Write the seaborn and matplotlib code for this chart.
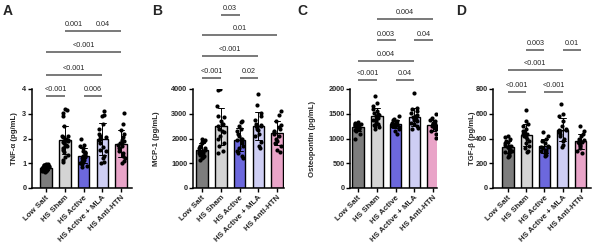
import numpy as np
import pandas as pd
import matplotlib
matplotlib.use("Agg")
import matplotlib.pyplot as plt
import seaborn as sns
import warnings
warnings.filterwarnings("ignore")

sns.set_theme(style="ticks")
plt.rcParams['font.family'] = ['Liberation Sans', 'DejaVu Sans']
np.random.seed(3)

groups = ["Low Salt", "HS Sham", "HS Active", "HS Active + MLA", "HS Anti-HTN"]
colors = ["#7d7d7d", "#d4d4d4", "#5a55f0", "#c8c8fa", "#f598c8"]

# Panel A: TNF-alpha (pg/mL)
tnf_low = [0.95, 0.98, 0.92, 0.9, 0.88, 0.85, 0.85, 0.83, 0.82, 0.8, 0.8, 0.78, 0.77, 0.75, 0.75, 0.72, 0.7, 0.7, 0.68, 0.65, 0.92, 0.87, 0.9, 0.78]
tnf_sham = [3.2, 3.15, 3.05, 2.9, 2.5, 2.1, 1.9, 1.75, 1.95, 1.7, 1.85, 2.1, 2.0, 1.95, 1.9, 1.85, 1.8, 1.7, 1.6, 1.55, 1.45, 1.35, 1.25, 1.15, 1.05, 1.9, 2.05]
tnf_active = [2.0, 1.75, 1.68, 1.6, 1.5, 1.45, 1.4, 1.35, 1.3, 1.3, 1.25, 1.2, 1.15, 1.1, 1.05, 1.0, 0.95, 0.9, 0.85, 1.4]
tnf_mla = [3.1, 2.95, 2.9, 2.6, 2.4, 2.2, 2.1, 2.0, 1.95, 1.8, 1.65, 1.55, 1.5, 1.3, 1.2, 1.05, 1.0, 2.05]
tnf_antihtn = [3.05, 2.6, 2.35, 2.2, 2.05, 1.95, 1.9, 1.85, 1.8, 1.7, 1.6, 1.5, 1.4, 1.3, 1.2, 1.1, 1.0, 1.75]

# Panel B: MCP-1 (pg/mL)
mcp_low = [2000, 1950, 1900, 1850, 1800, 1700, 1650, 1600, 1550, 1500, 1500, 1450, 1400, 1350, 1300, 1250, 1200, 1150, 1400, 1600]
mcp_sham = [4000, 3950, 3300, 2900, 2850, 2700, 2600, 2500, 2400, 2300, 2250, 2100, 2000, 1800, 1700, 1500, 1400, 2600]
mcp_active = [2700, 2650, 2500, 2400, 2300, 2200, 2100, 2000, 1950, 1900, 1800, 1700, 1600, 1500, 1400, 1300, 1200, 2000]
mcp_mla = [3800, 3350, 3050, 2900, 2750, 2600, 2550, 2500, 2450, 2400, 2350, 2200, 2100, 1850, 1700, 1600, 2500]
mcp_antihtn = [3100, 2950, 2700, 2550, 2450, 2400, 2300, 2200, 2100, 2000, 1900, 1800, 1700, 1550, 1450, 2250]

# Panel C: Osteopontin (pg/mL)
opn_low = [1330, 1320, 1300, 1300, 1290, 1280, 1270, 1260, 1250, 1250, 1240, 1230, 1220, 1210, 1200, 1180, 1150, 1100, 980, 1260]
opn_sham = [1850, 1720, 1650, 1600, 1550, 1520, 1500, 1480, 1450, 1420, 1400, 1380, 1350, 1320, 1300, 1270, 1250, 1230, 1200, 1450]
opn_active = [1450, 1400, 1380, 1360, 1340, 1320, 1310, 1300, 1290, 1280, 1270, 1260, 1250, 1230, 1200, 1150, 1100, 1300]
opn_mla = [1920, 1620, 1600, 1560, 1520, 1480, 1450, 1420, 1400, 1380, 1350, 1320, 1300, 1260, 1220, 1200, 1430]
opn_antihtn = [1500, 1420, 1380, 1350, 1320, 1300, 1290, 1280, 1270, 1260, 1250, 1240, 1220, 1200, 1150, 1100, 1020, 1280]

# Panel D: TGF-beta (pg/mL)
tgf_low = [420, 410, 400, 380, 370, 360, 350, 340, 330, 320, 310, 300, 290, 280, 270, 260, 250, 330, 340]
tgf_sham = [630, 540, 520, 500, 480, 460, 450, 440, 430, 420, 410, 400, 380, 360, 340, 320, 300, 290, 440]
tgf_active = [450, 420, 400, 380, 360, 340, 330, 320, 310, 300, 290, 280, 270, 260, 330]
tgf_mla = [680, 600, 580, 540, 500, 480, 470, 460, 450, 440, 420, 400, 380, 350, 330, 470]
tgf_antihtn = [500, 460, 440, 420, 400, 390, 380, 370, 360, 350, 340, 320, 300, 280, 370]

# brackets: (group i, group j, line level, label)
brk_a = [(0, 1, 3.71, "<0.001"), (2, 3, 3.71, "0.006"), (0, 3, 4.58, "<0.001"),
         (0, 4, 5.48, "<0.001"), (1, 2, 6.35, "0.001"), (2, 4, 6.35, "0.04")]
brk_b = [(0, 1, 4450, "<0.001"), (2, 3, 4450, "0.02"), (0, 3, 5330, "<0.001"),
         (0, 4, 6180, "0.01"), (1, 2, 6990, "0.03")]
brk_c = [(0, 1, 2180, "<0.001"), (2, 3, 2180, "0.04"), (0, 3, 2560, "0.004"),
         (1, 2, 2980, "0.003"), (3, 4, 2980, "0.04"), (1, 4, 3420, "0.004")]
brk_d = [(0, 1, 776, "<0.001"), (2, 3, 776, "<0.001"), (0, 3, 952, "<0.001"),
         (1, 2, 1112, "0.003"), (3, 4, 1112, "0.01")]

panels = [
    ("A", [tnf_low, tnf_sham, tnf_active, tnf_mla, tnf_antihtn], "TNF-α (pg/mL)", [0, 1, 2, 3, 4], brk_a),
    ("B", [mcp_low, mcp_sham, mcp_active, mcp_mla, mcp_antihtn], "MCP-1 (pg/mL)", [0, 1000, 2000, 3000, 4000], brk_b),
    ("C", [opn_low, opn_sham, opn_active, opn_mla, opn_antihtn], "Osteopontin (pg/mL)", [0, 500, 1000, 1500, 2000], brk_c),
    ("D", [tgf_low, tgf_sham, tgf_active, tgf_mla, tgf_antihtn], "TGF-β (pg/mL)", [0, 200, 400, 600, 800], brk_d),
]

W, H = 600, 244
fig = plt.figure(figsize=(6, 2.44), dpi=100)

# pixel geometry: (axis left, first bar center, axis right, bar spacing, ylabel x, letter x)
geom = [(32, 46, 132, 18.8, 15, 3), (193, 202, 284, 18.8, 156, 152),
        (350, 358, 437, 18.8, 313, 297), (493, 508, 591, 18.2, 472, 456)]
top_px, bot_px = 89, 188

for (letter, vals, ylabel, yt, brks), (L, c0, R, spacing, ylx, lx) in zip(panels, geom):
    ax = fig.add_axes([L / W, 1 - bot_px / H, (R - L) / W, (bot_px - top_px) / H])
    df = pd.DataFrame({"group": np.repeat(groups, [len(v) for v in vals]),
                       "value": np.concatenate(vals)})
    sns.barplot(data=df, x="group", y="value", hue="group", order=groups, hue_order=groups,
                palette=colors, errorbar="sd", capsize=0.35, width=0.62,
                edgecolor="black", linewidth=1.0, legend=False,
                err_kws={"linewidth": 0.7, "color": "black"}, ax=ax)
    sns.stripplot(data=df, x="group", y="value", order=groups, color="black",
                  size=3.0, jitter=0.2, ax=ax, zorder=5)
    ax.set_xlim((L - c0) / spacing, (R - c0) / spacing)
    ax.set_ylim(0, yt[-1])
    ax.set_yticks(yt)
    ax.set_yticklabels([str(t) for t in yt], fontsize=5.3, fontweight="bold")
    ax.set_xticks(range(5))
    ax.set_xticklabels(groups, rotation=45, ha="right", rotation_mode="anchor",
                       fontsize=5.7, fontweight="bold")
    ax.set_xlabel("")
    ax.set_ylabel("")
    for s in ["top", "right"]:
        ax.spines[s].set_visible(False)
    for s in ["left", "bottom"]:
        ax.spines[s].set_linewidth(1.1)
        ax.spines[s].set_color("black")
    ax.tick_params(axis="both", length=3, width=1.0, pad=1.5, color="black")
    ax.tick_params(axis="y", pad=1)
    fig.text(ylx / W, 1 - (top_px + bot_px) / 2 / H, ylabel, rotation=90, ha="center",
             va="center", fontsize=5.6, fontweight="bold")
    fig.text(lx / W, 1 - 4 / H, letter, ha="left", va="top", fontsize=10, fontweight="bold")
    ymax = yt[-1]
    for i, j, lvl, lab in brks:
        ax.plot([i, j], [lvl, lvl], color="#555555", lw=1.1, clip_on=False,
                solid_capstyle="butt")
        ax.text((i + j) / 2, lvl + ymax * 0.03, lab, ha="center", va="bottom",
                fontsize=5.2, clip_on=False)

fig.savefig("out.png", dpi=100)
